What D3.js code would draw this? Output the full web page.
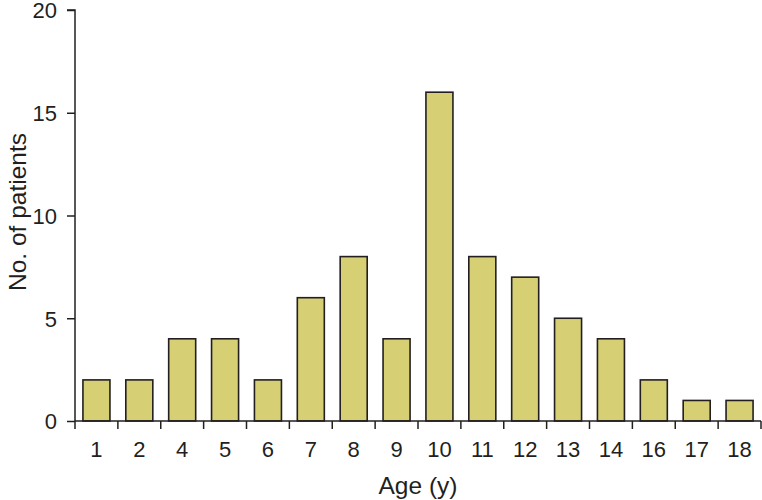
<!DOCTYPE html>
<html><head><meta charset="utf-8">
<script src="https://cdn.jsdelivr.net/npm/d3@7"></script>
<style>body{margin:0;background:#fff}svg{display:block}text{font-family:"Liberation Sans",Arial,sans-serif;fill:#231f20}</style>
</head><body><svg width="762" height="500"></svg>
<script>
const categories = ["1","2","4","5","6","7","8","9","10","11","12","13","14","16","17","18"];
const values = [2,2,4,4,2,6,8,4,16,8,7,5,4,2,1,1];
const yTicks = [0,5,10,15,20];

const svg = d3.select("svg");
const x0 = 75, x1 = 761, yb = 421, yt = 10;
const x = d3.scaleBand().domain(categories).range([x0, x1]).paddingInner(0.37).paddingOuter(0.185);
const y = d3.scaleLinear().domain([0,20]).range([yb, yt]);
const col = "#231f20";

// bars
svg.append("g").selectAll("rect").data(categories).join("rect")
  .attr("x", d => x(d)).attr("width", x.bandwidth())
  .attr("y", (d,i) => y(values[i])).attr("height", (d,i) => yb - y(values[i]))
  .attr("fill", "#d6cf74").attr("stroke", col).attr("stroke-width", 1.6);

// y axis
const ya = svg.append("g").attr("transform", `translate(${x0},0)`)
  .call(d3.axisLeft(y).tickValues(yTicks).tickSize(8).tickPadding(10));
ya.attr("font-size", 22).attr("font-family", null);
ya.select(".domain").attr("stroke", col).attr("stroke-width", 1.5).attr("d", `M-8,${yt}H0V${yb}`);
ya.selectAll(".tick line").attr("stroke", col).attr("stroke-width", 1.5);
ya.selectAll(".tick text").attr("font-size", 22).attr("dy", "0.36em").style("fill", col);

// x axis with ticks at band boundaries
const xa = svg.append("g").attr("transform", `translate(0,${yb})`);
xa.append("line").attr("x1", x0).attr("x2", x1).attr("stroke", col).attr("stroke-width", 1.5);
const step = x.step();
const bounds = d3.range(categories.length + 1).map(i => x0 + i * step);
xa.selectAll(".tk").data(bounds).join("line").attr("class","tk")
  .attr("x1", d => d).attr("x2", d => d).attr("y1", 0).attr("y2", 8)
  .attr("stroke", col).attr("stroke-width", 1.5);
xa.selectAll(".lb").data(categories).join("text").attr("class","lb")
  .attr("x", d => x(d) + x.bandwidth()/2).attr("y", 36)
  .attr("text-anchor", "middle").attr("font-size", 22).text(d => d);

// titles
svg.append("text").attr("x", 418).attr("y", 494).attr("text-anchor","middle").attr("font-size", 24.5).text("Age (y)");
svg.append("text").attr("transform", "translate(26,212) rotate(-90)").attr("text-anchor","middle").attr("font-size", 24.5).text("No. of patients");
</script></body></html>
